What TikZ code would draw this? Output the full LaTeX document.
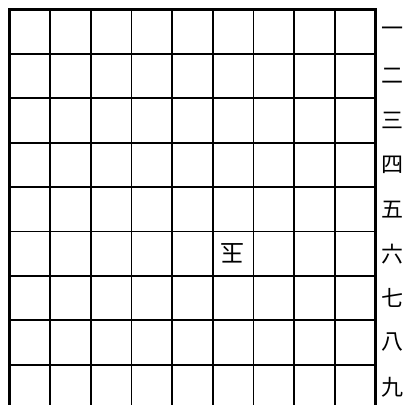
\documentclass[tikz,border=0pt]{standalone}
\usepackage{fontspec}
\newfontfamily\jpfont{Noto Sans CJK JP}

\begin{document}
\begin{tikzpicture}[x=1pt,y=1pt]
                    \useasboundingbox (0,0) rectangle (408,405);
                    \foreach \i in {1,...,8}
                        \draw[line width=1.8pt] (9.5+40.67*\i,0) -- (9.5+40.67*\i,395.5);
                    \foreach \j in {1,...,8}
                        \draw[line width=1.8pt] (9.5,395.5-44.4*\j) -- (375.5,395.5-44.4*\j);
                    \draw[line width=3pt] (9.5,0) -- (9.5,395.5) -- (375.5,395.5) -- (375.5,0);
                    \foreach \k [count=\j] in {一,二,三,四,五,六,七,八,九}
                        \node[font=\jpfont\fontsize{22}{22}\selectfont] (row\j) at (392,395.5-44.4*\j+22.2) {\k};
                    \node[rotate=180, font=\jpfont\fontsize{24}{24}\selectfont] (gyoku) at (232.5,395.5-44.4*5.5) {玉};
                \end{tikzpicture}
\end{document}
